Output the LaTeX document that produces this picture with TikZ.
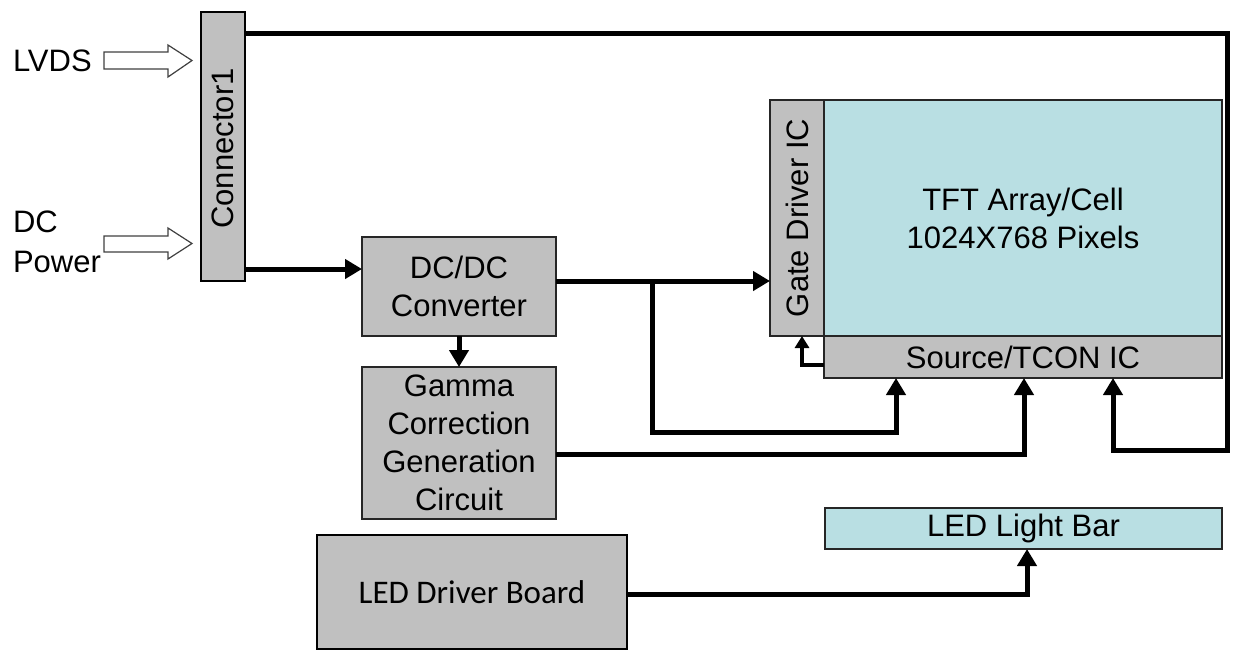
\documentclass[tikz,border=0pt]{standalone}
\usepackage{fontspec}
\setmainfont{Liberation Sans}
\newfontfamily\calib{Carlito}
\usetikzlibrary{arrows.meta}
\definecolor{boxgray}{RGB}{192,192,192}
\definecolor{panelblue}{RGB}{185,223,227}
\begin{document}
\begin{tikzpicture}[x=1pt,y=-1pt,
  every node/.style={inner sep=0pt,outer sep=0pt,font=\fontsize{31}{38}\selectfont,align=center},
  gbox/.style={draw=black!85,line width=1.2pt,fill=boxgray},
  bbox/.style={draw=black!85,line width=1.2pt,fill=panelblue},
  wire/.style={line width=5pt,line join=miter},
  arr/.style={wire,-{Triangle[length=17pt,width=19pt]}},
  sarr/.style={line width=4pt,line join=miter,-{Triangle[length=12pt,width=14pt]}},
  hollow/.style={draw=black!75,line width=1.2pt,fill=white}]
\useasboundingbox (0,0) rectangle (1234,649);
% boxes
\node[gbox,draw=black,line width=2.5pt,minimum width=44pt,minimum height=269pt] (conn) at (223,146.5) {};
\node[rotate=90] (conntxt) at ([yshift=-2pt]conn.center) {Connector1};
\node[gbox,minimum width=194pt,minimum height=99pt] (dcdc) at (459,286.5) {DC/DC\\Converter};
\node[gbox,minimum width=194pt,minimum height=152pt] (gamma) at (459,443) {Gamma\\Correction\\Generation\\Circuit};
\node[gbox,minimum width=54pt,minimum height=236pt] (gate) at (797,218) {};
\node[rotate=90] (gatetxt) at (gate.center) {Gate Driver IC};
\node[bbox,minimum width=398pt,minimum height=236pt] (tft) at (1023,218) {TFT Array/Cell\\1024X768 Pixels};
\node[gbox,minimum width=398pt,minimum height=42pt] (src) at (1023,357) {Source/TCON IC};
\node[bbox,minimum width=397pt,minimum height=41pt] (ledbar) at (1023.5,528.5) {LED Light Bar};
\node[gbox,draw=black,line width=1.5pt,minimum width=310pt,minimum height=114pt,font=\calib\fontsize{33}{40}\selectfont] (drv) at (472,592) {LED Driver Board};
% input labels
\node[anchor=west] (lvds) at (13,61) {LVDS};
\node[anchor=west,align=left,font=\fontsize{31}{40}\selectfont] (dcp) at (13,242) {DC\\Power};
% hollow arrows
\draw[hollow] (104,52) -- (168,52) -- (168,45) -- (192,60.5) -- (168,77) -- (168,69) -- (104,69) -- cycle;
\draw[hollow] (104,236) -- (168,236) -- (168,228) -- (192,243.5) -- (168,259) -- (168,252) -- (104,252) -- cycle;
% helper coordinates
\coordinate (y33) at (0,33);
\coordinate (y269) at (0,269);
\coordinate (y281) at (0,281);
\coordinate (y454) at (0,454);
\coordinate (y365) at (0,365);
\coordinate (y594) at (0,594);
\coordinate (j1) at (652,281);
\coordinate (tr) at (1227,33);
\coordinate (br) at (1227,450);
\coordinate (x1113) at (1113,450);
\coordinate (x896) at (896,432);
\coordinate (x1024) at (1024,454);
\coordinate (x802) at (802,365);
\coordinate (x1027) at (1027,594);
% connectors
\draw[arr] (conn.east |- y33) -- (tr) -- (br) -- (x1113) -- (src.south -| x1113);
\draw[arr] (conn.east |- y269) -- (dcdc.west |- y269);
\draw[arr] (dcdc.south) -- (gamma.north);
\draw[arr] (dcdc.east |- y281) -- (gate.west |- y281);
\draw[arr] (j1) -- (652,432) -- (x896) -- (src.south -| x896);
\draw[arr] (gamma.east |- y454) -- (x1024) -- (src.south -| x1024);
\draw[sarr] (src.west |- y365) -- (x802) -- (gate.south -| x802);
\draw[arr] (drv.east |- y594) -- (x1027) -- (ledbar.south -| x1027);
\end{tikzpicture}
\end{document}
